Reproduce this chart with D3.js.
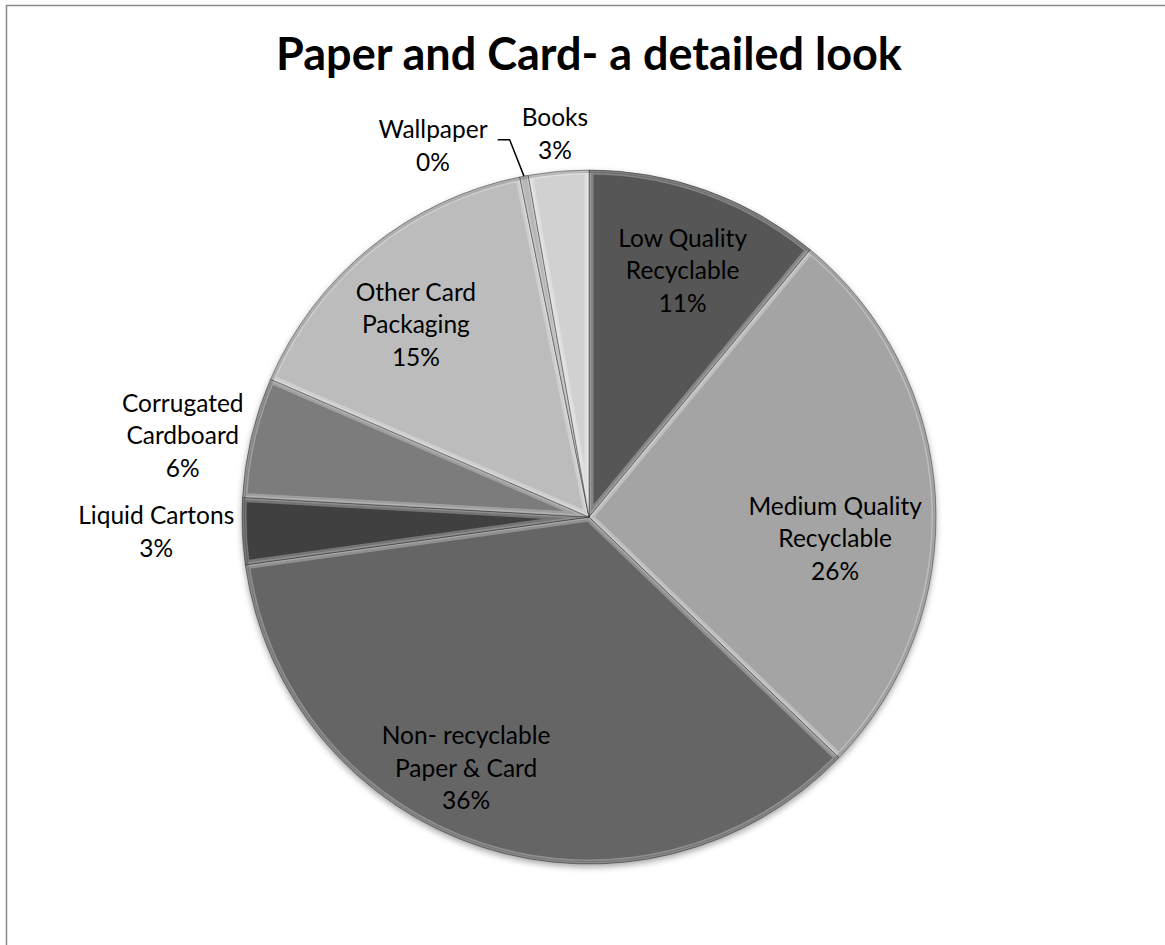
<!DOCTYPE html>
<html>
<head>
<meta charset="utf-8">
<script src="https://cdn.jsdelivr.net/npm/d3@7"></script>
<style>
  html, body { margin: 0; padding: 0; background: #fff; }
  svg { display: block; }
</style>
</head>
<body>
<svg id="chart" width="1165" height="945"></svg>
<script>
// ---- data ----
const title = "Paper and Card- a detailed look";
const categories = [
  "Low Quality\nRecyclable",
  "Medium Quality\nRecyclable",
  "Non- recyclable\nPaper & Card",
  "Liquid Cartons",
  "Corrugated\nCardboard",
  "Other Card\nPackaging",
  "Wallpaper",
  "Books"
];
const values = [11.0, 26.2, 35.6, 3.1, 5.6, 15.3, 0.4, 2.8];
const sliceColors = ["#575757", "#a4a4a4", "#656565", "#3f3f3f", "#7b7b7b", "#bcbcbc", "#9c9c9c", "#d1d1d1"];
const labelInside = [true, true, true, false, false, true, false, false];

// ---- layout (label placement relative to each slice's mid-angle) ----
const labelRadiusFactor = [0.76, 0.712, 0.805, 1, 1, 0.746, 1, 1];
const labelAngleShiftDeg = [1, 8.2, 8.1, 0, 0, -2.9, 0, 0];

const W = 1165, H = 945;
const cx = 589, cy = 517, R = 347;
const fontFam = "Lato, 'Open Sans', sans-serif";
const labelSize = 24.5, lineH = 32.5;

const svg = d3.select("#chart");

// frame
svg.append("rect").attr("x", 6.5).attr("y", 5.5).attr("width", W + 20).attr("height", H + 20)
  .attr("fill", "#fff").attr("stroke", "#8a8a8a").attr("stroke-width", 1.5);

// title
svg.append("text").attr("x", cx).attr("y", 70).attr("text-anchor", "middle")
  .attr("font-family", fontFam).attr("font-weight", "bold").attr("font-size", 45)
  .attr("fill", "#000").text(title);

const defs = svg.append("defs");
const shadow = defs.append("filter").attr("id", "shadow")
  .attr("x", "-10%").attr("y", "-10%").attr("width", "120%").attr("height", "120%");
shadow.append("feDropShadow").attr("dx", 0).attr("dy", 3).attr("stdDeviation", 3)
  .attr("flood-color", "#000").attr("flood-opacity", 0.35);

const total = d3.sum(values);
const pct = d3.format(".0%");
const pie = d3.pie().sort(null).value(d => d)(values);
const arc = d3.arc().innerRadius(0).outerRadius(R);

const g = svg.append("g").attr("transform", `translate(${cx},${cy})`);
const sl = g.append("g").attr("filter", "url(#shadow)");

pie.forEach((p, i) => {
  defs.append("clipPath").attr("id", "clip" + i).append("path").attr("d", arc(p));
});

const slices = sl.selectAll("g.slice").data(pie).join("g").attr("class", "slice");
slices.append("path").attr("d", arc).attr("fill", (d, i) => sliceColors[i]);
// bevel: inner highlight band and dark seam
slices.append("path").attr("d", arc).attr("fill", "none")
  .attr("stroke", "#fff").attr("stroke-opacity", 0.28).attr("stroke-width", 9)
  .attr("clip-path", (d, i) => `url(#clip${i})`);
slices.append("path").attr("d", arc).attr("fill", "none")
  .attr("stroke", "#fff").attr("stroke-opacity", 0.2).attr("stroke-width", 4)
  .attr("clip-path", (d, i) => `url(#clip${i})`);
slices.append("path").attr("d", arc).attr("fill", "none")
  .attr("stroke", "#000").attr("stroke-opacity", 0.35).attr("stroke-width", 1);

// outer rim darkening
g.append("circle").attr("r", R - 1.5).attr("fill", "none")
  .attr("stroke", "#000").attr("stroke-opacity", 0.18).attr("stroke-width", 3);

// ---- labels ----
const lg = svg.append("g").attr("font-family", fontFam).attr("font-size", labelSize).attr("fill", "#000");

function lines(i) {
  return categories[i].split("\n").concat([pct(values[i] / total)]);
}
function measure(str) {
  const t = lg.append("text").text(str);
  const w = t.node().getComputedTextLength();
  t.remove();
  return w;
}
function drawBlock(ls, x, y) {
  const n = ls.length;
  ls.forEach((s, k) => {
    lg.append("text").attr("x", x).attr("y", y + (k - (n - 1) / 2) * lineH + labelSize * 0.36)
      .attr("text-anchor", "middle").text(s);
  });
}

const outside = [];
pie.forEach((p, i) => {
  const ls = lines(i);
  const mid = (p.startAngle + p.endAngle) / 2;
  if (labelInside[i]) {
    const a = mid + labelAngleShiftDeg[i] * Math.PI / 180;
    const rr = R * labelRadiusFactor[i];
    drawBlock(ls, cx + Math.sin(a) * rr, cy - Math.cos(a) * rr);
  } else {
    const w = d3.max(ls, measure);
    const h = ls.length * lineH - 5;
    const px = cx + Math.sin(mid) * (R + 8), py = cy - Math.cos(mid) * (R + 8);
    let bx, by;
    if (Math.abs(Math.sin(mid)) >= 0.7) {
      bx = px + Math.sign(Math.sin(mid)) * w / 2; by = py;
    } else {
      bx = px + Math.sin(mid) * w / 2; by = py - Math.cos(mid) * h / 2;
    }
    outside.push({ i, ls, w, h, x: bx, y: by, mid, moved: false });
  }
});
// resolve overlaps: push the counter-clockwise label to the left
for (let a = outside.length - 2; a >= 0; a--) {
  const A = outside[a], B = outside[a + 1];
  const overlapX = (A.x + A.w / 2) > (B.x - B.w / 2) && (A.x - A.w / 2) < (B.x + B.w / 2);
  const overlapY = Math.abs(A.y - B.y) < (A.h + B.h) / 2;
  if (overlapX && overlapY) {
    A.x = (B.x - B.w / 2) - 34 - A.w / 2;
    A.y += 7;
    A.moved = true;
  }
}
outside.forEach(o => {
  drawBlock(o.ls, o.x, o.y);
  if (o.moved) {
    const right = o.x + o.w / 2;
    const ex = cx + Math.sin(o.mid) * R, ey = cy - Math.cos(o.mid) * R;
    g.append("path").attr("transform", `translate(${-cx},${-cy})`)
      .attr("d", d3.line()([[right + 10, o.y - 6], [right + 22, o.y - 6], [ex, ey]]))
      .attr("fill", "none").attr("stroke", "#000").attr("stroke-width", 1.5);
  }
});
</script>
</body>
</html>
